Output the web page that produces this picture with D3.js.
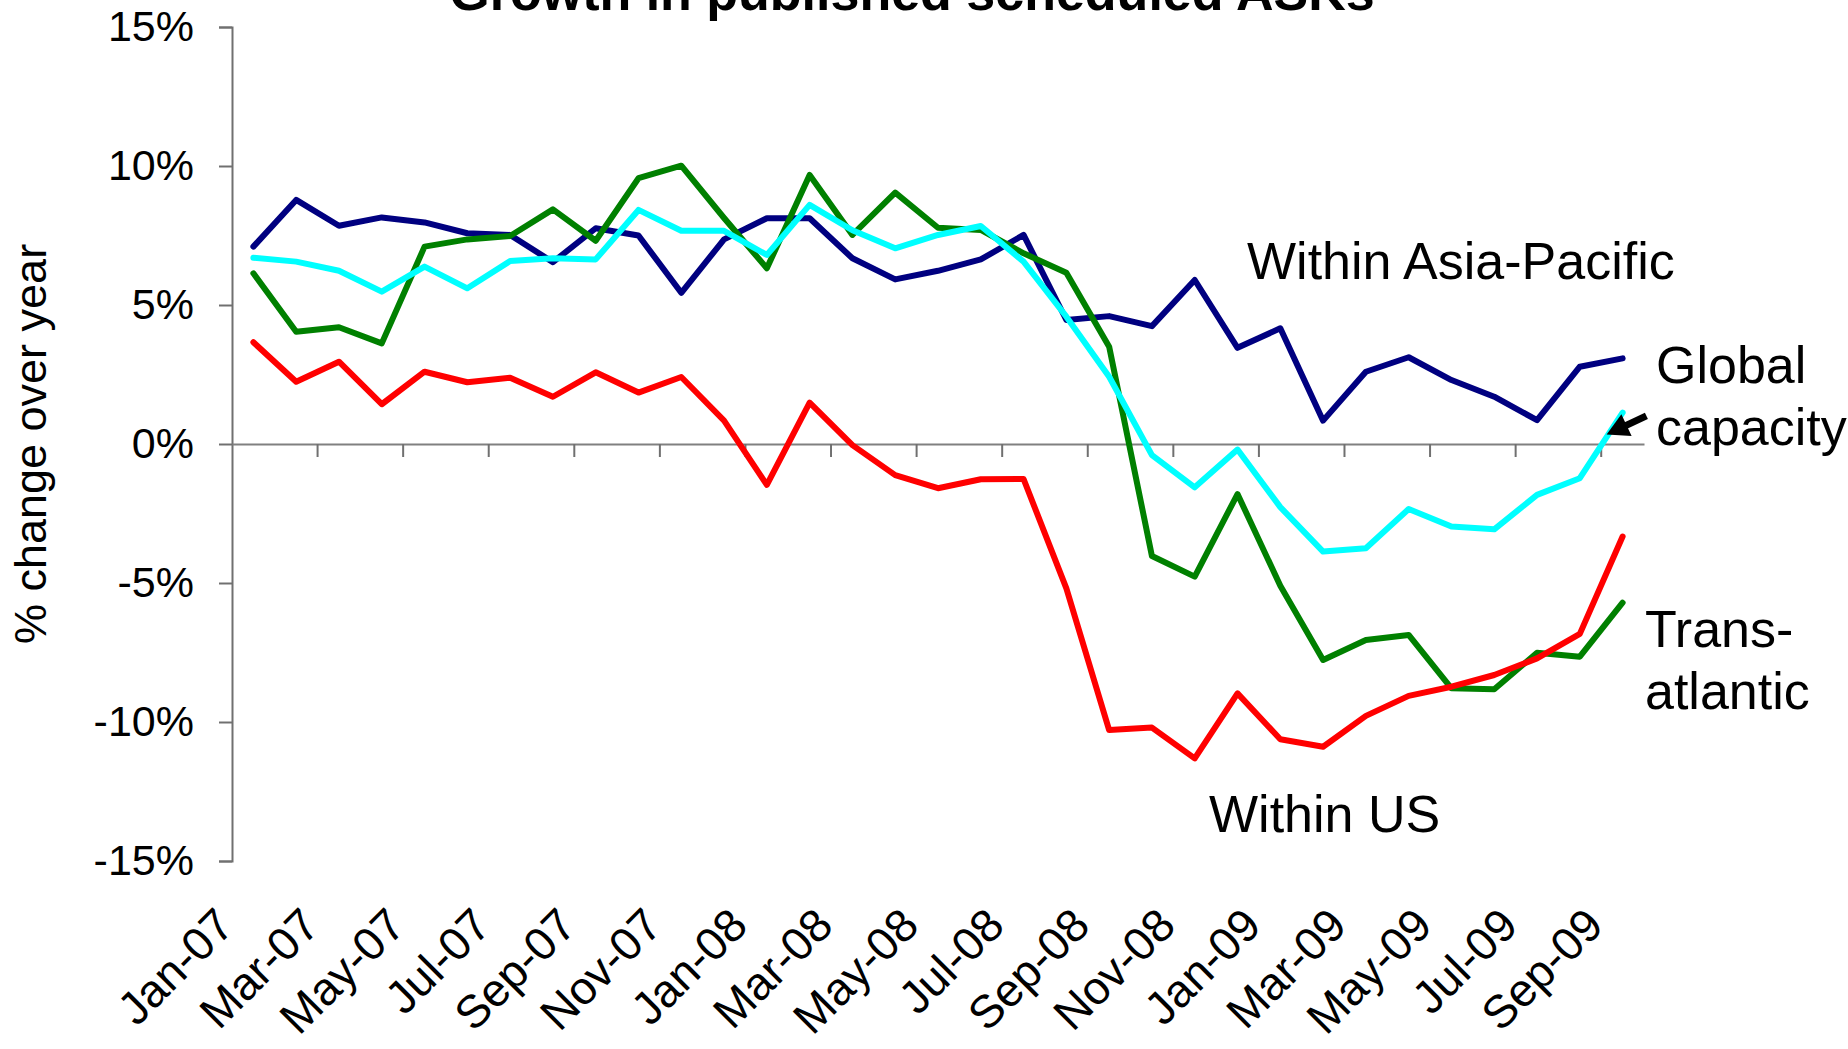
<!DOCTYPE html>
<html>
<head>
<meta charset="utf-8">
<script src="https://cdn.jsdelivr.net/npm/d3@7"></script>
<style>
  body { margin: 0; background: #fff; }
  text { font-family: "Liberation Sans", Arial, sans-serif; fill: #000; }
</style>
</head>
<body>
<div id="chart"></div>
<script>

// months on the category axis (Jan-07 .. Sep-09)
var months = ["Jan-07","Feb-07","Mar-07","Apr-07","May-07","Jun-07","Jul-07","Aug-07","Sep-07","Oct-07","Nov-07","Dec-07",
  "Jan-08","Feb-08","Mar-08","Apr-08","May-08","Jun-08","Jul-08","Aug-08","Sep-08","Oct-08","Nov-08","Dec-08",
  "Jan-09","Feb-09","Mar-09","Apr-09","May-09","Jun-09","Jul-09","Aug-09","Sep-09"]

// % change over year
var asiaPacific = [7.10, 8.78, 7.85, 8.15, 7.97, 7.58, 7.52, 6.54, 7.76, 7.50, 5.44, 7.36, 8.12, 8.12, 6.68, 5.92, 6.23,
  6.64, 7.52, 4.46, 4.60, 4.24, 5.90, 3.46, 4.16, 0.84, 2.60, 3.12, 2.30, 1.70, 0.86, 2.78, 3.08]
var transAtlantic = [6.14, 4.04, 4.20, 3.62, 7.10, 7.36, 7.48, 8.44, 7.31, 9.56, 10.01, 8.13, 6.32, 9.68, 7.52, 9.04, 7.78,
  7.70, 6.86, 6.16, 3.50, -4.03, -4.77, -1.80, -5.10, -7.77, -7.05, -6.87, -8.79, -8.82, -7.51, -7.65, -5.71]
var withinUS = [3.66, 2.24, 2.96, 1.43, 2.60, 2.22, 2.38, 1.70, 2.58, 1.85, 2.41, 0.84, -1.47, 1.49, -0.04, -1.12, -1.59,
  -1.27, -1.26, -5.19, -10.29, -10.20, -11.31, -8.97, -10.62, -10.89, -9.78, -9.06, -8.73, -8.31, -7.71, -6.83, -3.33]
var globalCap = [6.70, 6.56, 6.23, 5.48, 6.38, 5.60, 6.58, 6.68, 6.64, 8.42, 7.67, 7.67, 6.80, 8.60, 7.69, 7.04, 7.52,
  7.84, 6.56, 4.58, 2.42, -0.40, -1.56, -0.20, -2.27, -3.87, -3.75, -2.34, -2.97, -3.07, -1.83, -1.23, 1.13]

var yTicks = [-15, -10, -5, 0, 5, 10, 15]
var title = "Growth in published scheduled ASKs"
var yTitle = "% change over year"

// set the dimensions of the graph
var width = 1848, height = 1049
var plot = {left: 232, right: 1644, top: 27, bottom: 861}

var svg = d3.select("#chart")
  .append("svg")
  .attr("width", width)
  .attr("height", height)

var x = d3.scaleBand()
  .domain(months)
  .range([plot.left, plot.right])
  .padding(0)

var y = d3.scaleLinear()
  .domain([-15, 15])
  .range([plot.bottom, plot.top])

var cx = function(m) { return x(m) + x.bandwidth() / 2 }

// y axis
var yAxis = svg.append("g")
  .attr("transform", "translate(" + plot.left + ",0)")
  .call(d3.axisLeft(y).tickValues(yTicks).tickSize(13).tickPadding(25)
    .tickFormat(function(d) { return d + "%" }))
yAxis.select(".domain").attr("stroke", "#707070").attr("stroke-width", 2)
yAxis.selectAll(".tick line").attr("stroke", "#707070").attr("stroke-width", 2)
yAxis.selectAll(".tick text")
  .style("font-family", "Liberation Sans, Arial, sans-serif")
  .style("font-size", "43px")
  .attr("fill", "#000")

// category axis sits on the 0% line, ticks every two months
var xAxis = svg.append("g")
  .attr("transform", "translate(0," + y(0) + ")")
  .call(d3.axisBottom(x).tickSize(13).tickSizeOuter(0).tickFormat(""))
xAxis.select(".domain").attr("stroke", "#808080").attr("stroke-width", 2)
xAxis.selectAll(".tick")
  .attr("transform", function(d) { return "translate(" + x(d) + ",0)" })
  .style("display", function(d, i) { return i % 2 == 0 && i > 0 ? null : "none" })
xAxis.selectAll(".tick line").attr("stroke", "#707070").attr("stroke-width", 2)

// month labels at the bottom, rotated
svg.append("g")
  .selectAll("text")
  .data(months.filter(function(d, i) { return i % 2 == 0 }))
  .enter()
  .append("text")
  .attr("transform", function(d) { return "translate(" + (cx(d) - 17) + ",928) rotate(-45)" })
  .attr("text-anchor", "end")
  .style("font-size", "46px")
  .text(function(d) { return d })

// the four series
var series = [
  {name: "Within Asia-Pacific", values: asiaPacific, color: "#000080"},
  {name: "Trans-atlantic", values: transAtlantic, color: "#008000"},
  {name: "Within US", values: withinUS, color: "#ff0000"},
  {name: "Global capacity", values: globalCap, color: "#00ffff"}
]

var line = d3.line()
  .x(function(d, i) { return cx(months[i]) })
  .y(function(d) { return y(d) })

svg.selectAll(".series")
  .data(series)
  .enter()
  .append("path")
  .attr("class", "series")
  .attr("d", function(d) { return line(d.values) })
  .attr("fill", "none")
  .attr("stroke", function(d) { return d.color })
  .attr("stroke-width", 6)
  .attr("stroke-linejoin", "round")
  .attr("stroke-linecap", "round")

// title (cut at the top edge like the original)
svg.append("text")
  .attr("x", 912)
  .attr("y", 10)
  .attr("text-anchor", "middle")
  .style("font-size", "52px")
  .style("font-weight", "bold")
  .text(title)

// y axis title
svg.append("text")
  .attr("transform", "translate(46," + y(0) + ") rotate(-90)")
  .attr("text-anchor", "middle")
  .style("font-size", "45px")
  .text(yTitle)

// series labels
var lastM = months[months.length - 1]
var labels = [
  {lines: ["Within Asia-Pacific"], x: 1247, y: 279},
  {lines: ["Global", "capacity"], x: 1656, y: 383},
  {lines: ["Trans-", "atlantic"], x: 1645, y: 647},
  {lines: ["Within US"], x: 1209, y: 832}
]
labels.forEach(function(l) {
  var t = svg.append("text")
    .attr("x", l.x)
    .attr("y", l.y)
    .style("font-size", "52px")
  l.lines.forEach(function(s, i) {
    t.append("tspan")
      .attr("x", l.x)
      .attr("dy", i == 0 ? 0 : 62)
      .text(s)
  })
})

// arrow pointing at the end of global capacity
var tip = [cx(lastM) - 16, y(globalCap[globalCap.length - 1]) + 22]
var ang = Math.atan2(416 - tip[1], 1646 - tip[0])
var arrow = svg.append("g")
  .attr("transform", "translate(" + tip[0] + "," + tip[1] + ") rotate(" + (ang * 180 / Math.PI) + ")")
arrow.append("line")
  .attr("x1", 14).attr("y1", 0)
  .attr("x2", 44).attr("y2", 0)
  .attr("stroke", "#000")
  .attr("stroke-width", 7)
arrow.append("path")
  .attr("d", "M0,0 L22,-12 L22,12 Z")
  .attr("fill", "#000")

</script>
</body>
</html>
